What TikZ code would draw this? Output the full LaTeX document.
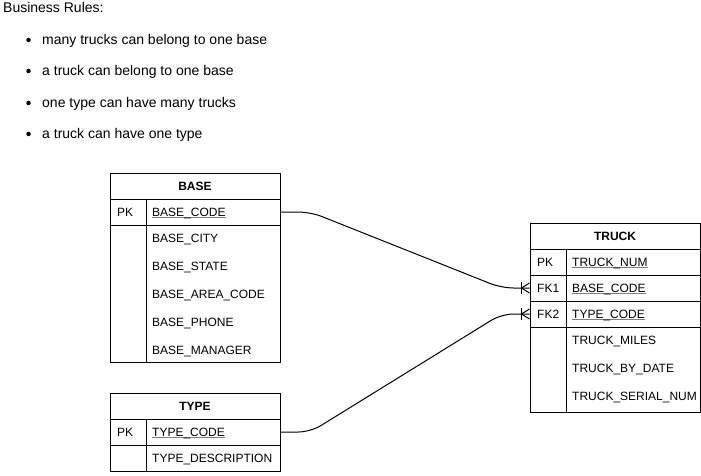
\documentclass[tikz,border=0pt]{standalone}
\usepackage{fontspec}
\setmainfont{Liberation Sans}
\usetikzlibrary{calc}
\newcommand\myul[1]{\setbox0\hbox{#1}\rlap{\color{gray}\rule[-1.6pt]{\wd0}{0.7pt}}\box0}
\tikzset{
  cell/.style={draw=black, line width=1pt, fill=white, inner sep=0pt, minimum width=170pt, minimum height=26pt},
  txt/.style={inner sep=0pt, anchor=west, font=\fontsize{12pt}{14pt}\selectfont, text height=8.6pt, text depth=0pt},
  btxt/.style={inner sep=0pt, anchor=west, font=\fontsize{14pt}{16pt}\selectfont, text height=10pt, text depth=0pt},
  ttl/.style={inner sep=0pt, anchor=center, font=\fontsize{12pt}{14pt}\selectfont\bfseries, text height=8.6pt, text depth=0pt},
  rel/.style={draw=black, line width=1pt, rounded corners=12pt},
  crow/.style={draw=black, line width=1pt},
  bul/.style={circle, fill=black, inner sep=0pt, minimum size=4.5pt}
}
\begin{document}
\begin{tikzpicture}[x=1pt,y=-1pt]
\useasboundingbox (0,0) rectangle (701,476);
% business rules
\node[btxt] (br) at (3,8) {Business Rules:};
\node[bul] (b1) at (28.5,40) {};
\node[btxt] (t1) at (42,40) {many trucks can belong to one base};
\node[bul] (b2) at (28.5,71) {};
\node[btxt] (t2) at (42,71) {a truck can belong to one base};
\node[bul] (b3) at (28.5,103) {};
\node[btxt] (t3) at (42,103) {one type can have many trucks};
\node[bul] (b4) at (28.5,134) {};
\node[btxt] (t4) at (42,134) {a truck can have one type};

% BASE table
\node[cell] (baset) at (195,186) {};
\node[cell] (basepk) at (195,212) {};
\node[cell, minimum height=137pt] (baserest) at (195,293.5) {};
\draw[line width=1pt] (146,199) -- (146,362);
\node[ttl] (basetl) at (baset.center) {BASE};
\node[txt] (basepkl) at (117,212) {PK};
\node[txt] (basecode) at (152,212) {\myul{BASE\_CODE}};
\node[txt] (basecity) at (152,238) {BASE\_CITY};
\node[txt] (basestate) at (152,266) {BASE\_STATE};
\node[txt] (basearea) at (152,294) {BASE\_AREA\_CODE};
\node[txt] (basephone) at (152,322) {BASE\_PHONE};
\node[txt] (basemgr) at (152,350) {BASE\_MANAGER};

% TYPE table
\node[cell] (typet) at (195,406) {};
\node[cell] (typepk) at (195,432) {};
\node[cell] (typerest) at (195,458.5) {};
\draw[line width=1pt] (146,419) -- (146,472);
\node[ttl] (typetl) at (typet.center) {TYPE};
\node[txt] (typepkl) at (117,432) {PK};
\node[txt] (typecode) at (152,432) {\myul{TYPE\_CODE}};
\node[txt] (typedesc) at (152,458) {TYPE\_DESCRIPTION};

% TRUCK table
\node[cell] (truckt) at (615,236) {};
\node[cell] (truckpk) at (615,262) {};
\node[cell] (truckfk1) at (615,288) {};
\node[cell] (truckfk2) at (615,314) {};
\node[cell, minimum height=85pt] (truckrest) at (615,369.5) {};
\draw[line width=1pt] (566,249) -- (566,412);
\node[ttl] (trucktl) at (truckt.center) {TRUCK};
\node[txt] (truckpkl) at (537,262) {PK};
\node[txt] (truckfk1l) at (537,288) {FK1};
\node[txt] (truckfk2l) at (537,314) {FK2};
\node[txt] (trucknum) at (572,262) {\myul{TRUCK\_NUM}};
\node[txt] (truckbase) at (572,288) {\myul{BASE\_CODE}};
\node[txt] (trucktype) at (572,314) {\myul{TYPE\_CODE}};
\node[txt] (truckmiles) at (572,340) {TRUCK\_MILES};
\node[txt] (truckdate) at (572,368) {TRUCK\_BY\_DATE};
\node[txt] (truckserial) at (572,396) {TRUCK\_SERIAL\_NUM};

% relationships
\draw[rel] (basepk.east) -- ++(30,0) -- ($(truckfk1.west)+(-28,0)$) -- (truckfk1.west);
\draw[rel] (typepk.east) -- ++(30,0) -- ($(truckfk2.west)+(-28,0)$) -- (truckfk2.west);
% crow's feet
\draw[crow] ($(truckfk1.west)+(-8,-6)$) -- ($(truckfk1.west)+(-8,6)$);
\draw[crow] ($(truckfk1.west)+(0,-5)$) -- ($(truckfk1.west)+(-8,0)$) -- ($(truckfk1.west)+(0,5)$);
\draw[crow] ($(truckfk2.west)+(-8,-6)$) -- ($(truckfk2.west)+(-8,6)$);
\draw[crow] ($(truckfk2.west)+(0,-5)$) -- ($(truckfk2.west)+(-8,0)$) -- ($(truckfk2.west)+(0,5)$);
\end{tikzpicture}
\end{document}
